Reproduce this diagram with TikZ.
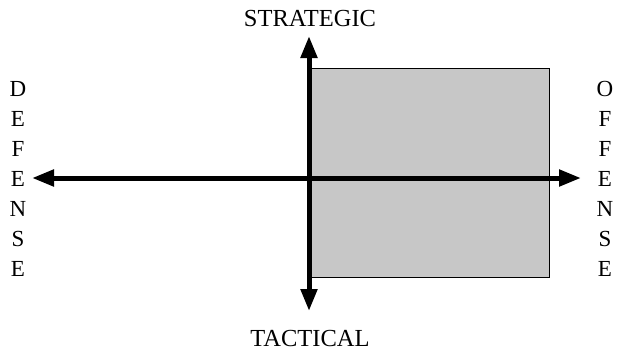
\documentclass[tikz,border=0pt]{standalone}
\usepackage{fontspec}
\setmainfont{Liberation Serif}
\usetikzlibrary{arrows.meta}
\begin{document}
\begin{tikzpicture}[x=1pt,y=-1pt,
  axis/.style={line width=5pt,-{Triangle[length=22pt,width=16pt]}},
  lbl/.style={font=\fontsize{24.5}{24}\selectfont,inner sep=0pt},
  vlbl/.style={font=\fontsize{23}{30}\selectfont,inner sep=0pt,align=center}]
\useasboundingbox (0,0) rectangle (621,354);
\node[draw=black,line width=0.8pt,fill=black!22,minimum width=240pt,minimum height=209pt,anchor=north west,inner sep=0pt] (box) at (309,68) {};
\coordinate (c) at (309,178);
\coordinate (top) at (309,36);
\coordinate (bot) at (309,311);
\coordinate (left) at (32,178);
\coordinate (right) at (581,178);
\draw[axis] (c) -- (top);
\draw[axis] (c) -- (bot);
\draw[axis] (c) -- (left);
\draw[axis] (c) -- (right);
\node[lbl] (strat) at (310,19) {STRATEGIC};
\node[lbl] (tact) at (310,339) {TACTICAL};
\node[vlbl] (def) at (18,179) {D\\E\\F\\E\\N\\S\\E};
\node[vlbl] (off) at (605,179) {O\\F\\F\\E\\N\\S\\E};
\end{tikzpicture}
\end{document}
